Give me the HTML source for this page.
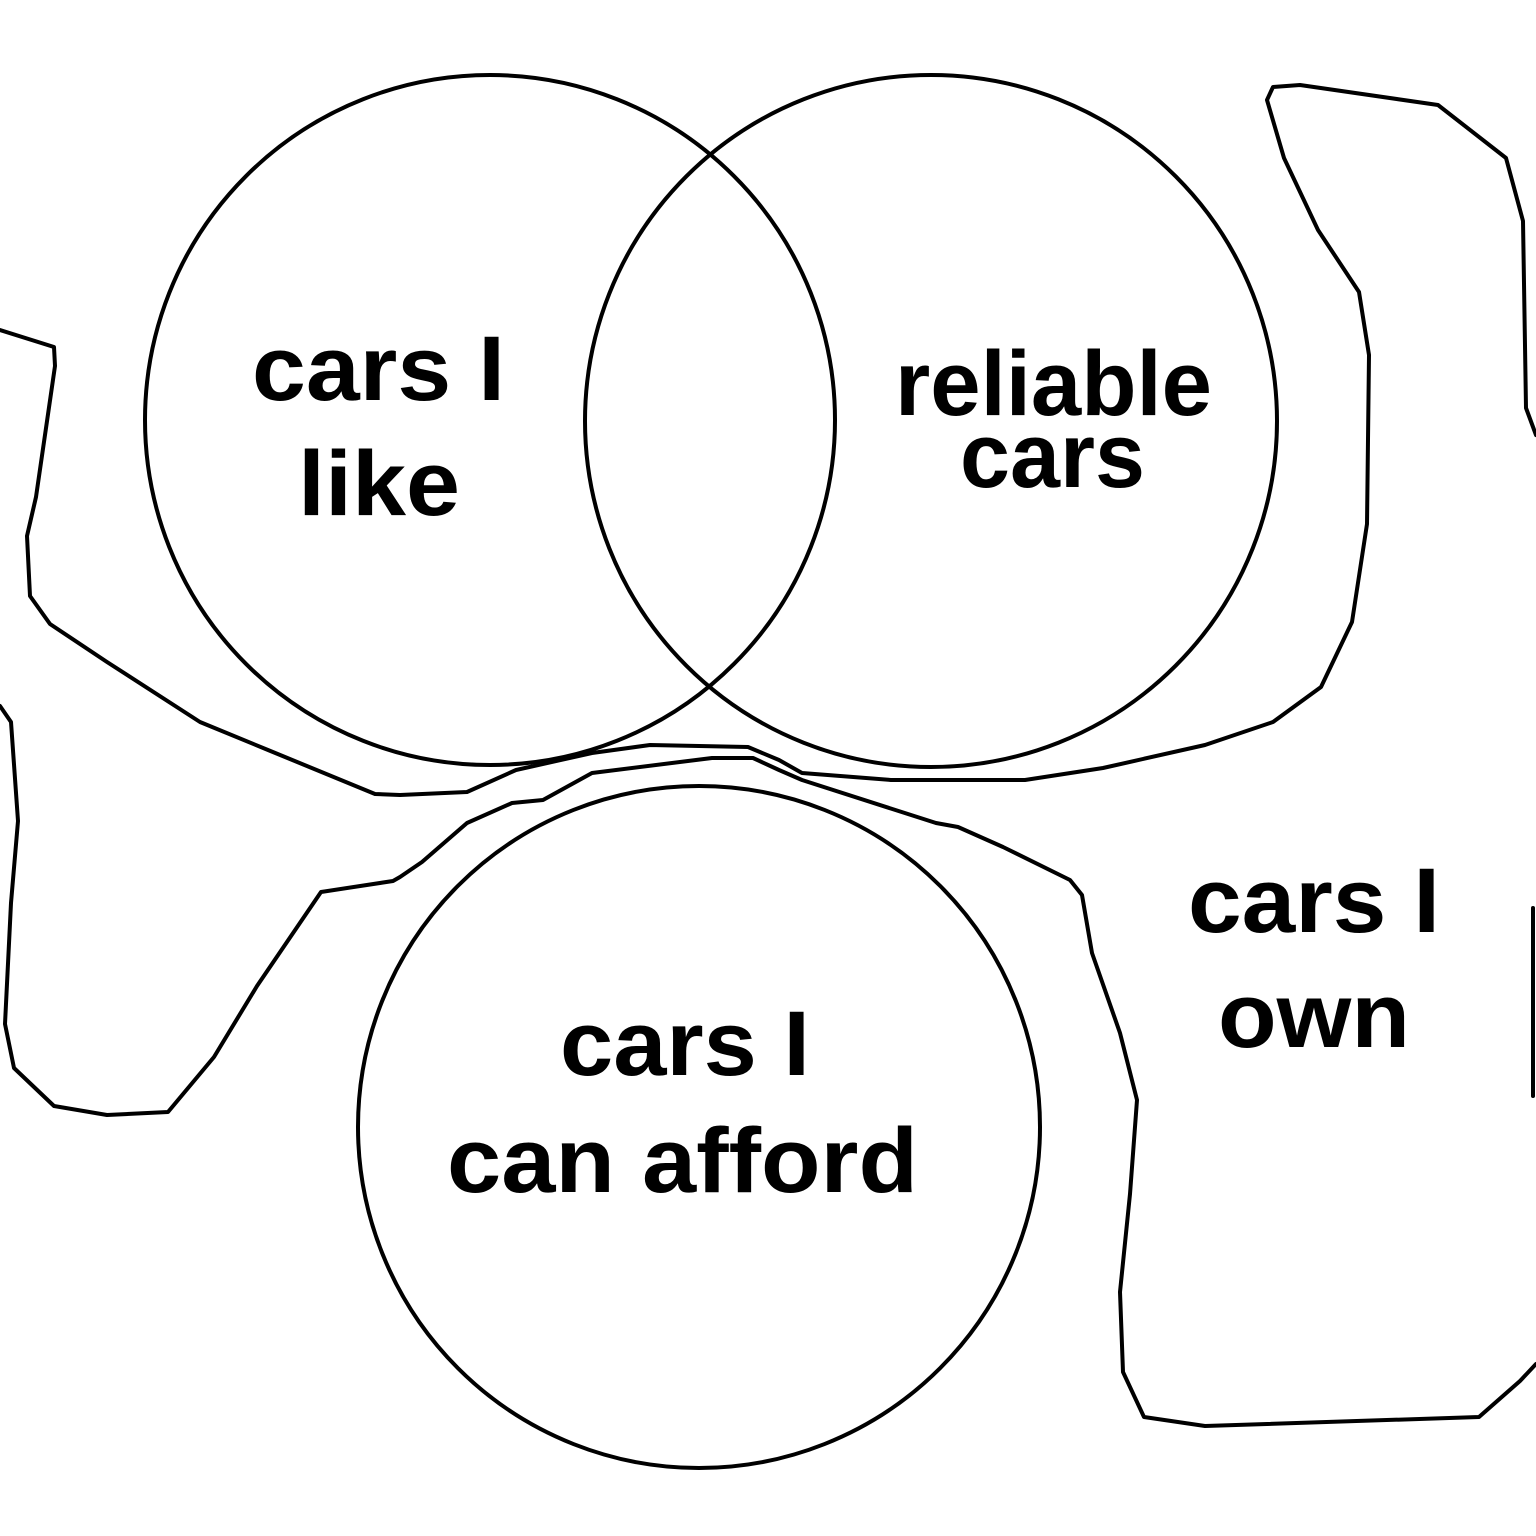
<!DOCTYPE html>
<html><head><meta charset="utf-8"><style>html,body{margin:0;padding:0;background:#fff}svg{display:block}</style></head><body>
<svg width="1536" height="1536" viewBox="0 0 1536 1536" xmlns="http://www.w3.org/2000/svg">
<rect width="1536" height="1536" fill="#fff"/>
<g fill="none" stroke="#000" stroke-width="4" stroke-linejoin="round" stroke-linecap="round">
<circle cx="490" cy="420" r="345"/>
<circle cx="931" cy="421" r="346"/>
<circle cx="699" cy="1127" r="341"/>
<path d="M0,330 L54,347 L55,366 L36,497 L27,536 L30,596 L50,624 L107,662 L200,722 L268,750 L375,794 L400,795 L467,792 L516,770 L592,753 L650,745 L748,747 L779,760 L802,773 L891,780 L1025,780 L1103,768 L1205,745 L1273,722 L1321,687 L1352,622 L1367,524 L1369,355 L1359,292 L1318,230 L1284,158 L1267,100 L1273,87 L1300,85 L1438,105 L1506,158 L1523,221 L1526,408 L1536,435"/>
<path d="M0,706 L11,722 L18,821 L11,903 L5,1024 L14,1068 L54,1106 L107,1115 L168,1112 L214,1057 L257,986 L321,892 L393,881 L400,877 L422,862 L467,823 L512,803 L543,800 L592,773 L712,758 L753,758 L779,770 L802,780 L936,823 L958,827 L1003,847 L1070,880 L1082,895 L1092,953 L1120,1033 L1137,1100 L1130,1194 L1120,1292 L1123,1372 L1144,1417 L1205,1426 L1479,1417 L1520,1381 L1536,1364"/>
<path d="M1533,908 L1533,1096"/>
</g>
<g font-family="Liberation Sans, Arial, sans-serif" font-weight="bold" font-size="92" fill="#000">
<text x="252" y="400" textLength="253" lengthAdjust="spacingAndGlyphs">cars I</text>
<text x="298" y="515" textLength="162" lengthAdjust="spacingAndGlyphs">like</text>
<text x="895" y="415" textLength="317" lengthAdjust="spacingAndGlyphs">reliable</text>
<text x="960" y="487" textLength="185" lengthAdjust="spacingAndGlyphs">cars</text>
<text x="560" y="1075" textLength="250" lengthAdjust="spacingAndGlyphs">cars I</text>
<text x="447" y="1192" textLength="471" lengthAdjust="spacingAndGlyphs">can afford</text>
<text x="1188" y="932" textLength="252" lengthAdjust="spacingAndGlyphs">cars I</text>
<text x="1218" y="1047" textLength="192" lengthAdjust="spacingAndGlyphs">own</text>
</g>
</svg>
</body></html>
